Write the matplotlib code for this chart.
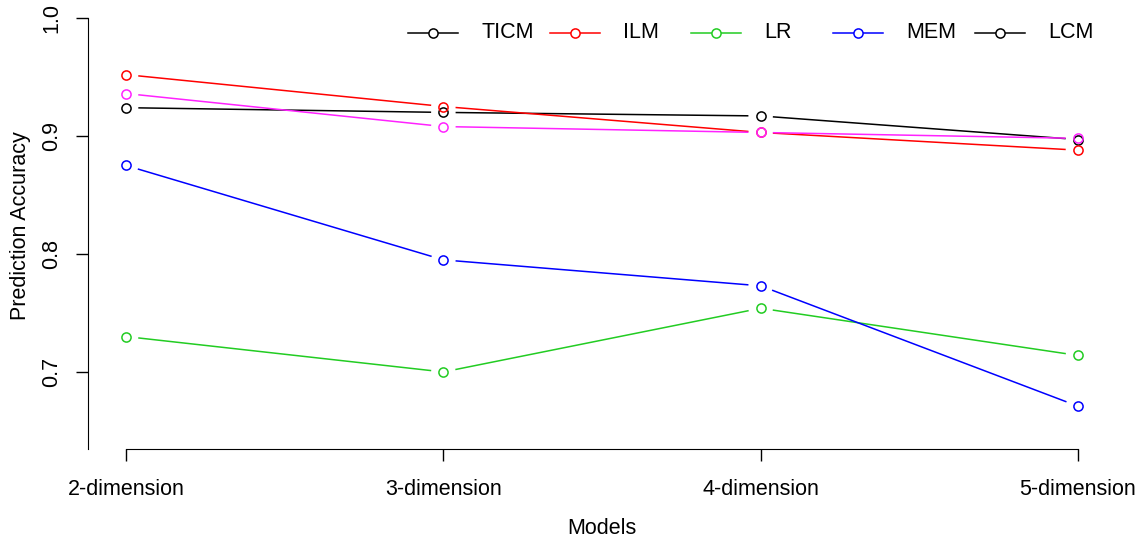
import numpy as np
import matplotlib
matplotlib.use("Agg")
import matplotlib.pyplot as plt
from matplotlib.lines import Line2D

plt.rcParams['font.family'] = ['Liberation Sans', 'DejaVu Sans']

models = ['2-dimension', '3-dimension', '4-dimension', '5-dimension']
ticm = [0.924, 0.920, 0.917, 0.897]
ilm = [0.952, 0.925, 0.903, 0.888]
lr = [0.730, 0.700, 0.754, 0.714]
mem = [0.875, 0.795, 0.773, 0.671]
lcm = [0.936, 0.908, 0.903, 0.898]

legend_names = ['TICM', 'ILM', 'LR', 'MEM', 'LCM']
legend_cols = ['black', 'red', '#22cc22', 'blue', 'black']

series = [(ticm, 'black'), (ilm, 'red'), (lr, '#22cc22'), (mem, 'blue'), (lcm, '#ff22ff')]

W, H = 1142, 540
fig = plt.figure(figsize=(W / 100, H / 100), dpi=100)
ax = fig.add_axes([88 / W, 1 - 449 / H, (1116 - 88) / W, (449 - 1.5) / H])

x = np.arange(1, len(models) + 1)
ax.set_xlim(0.88, 4.12)
ax.set_ylim(0.6347, 1.014)

fig.canvas.draw()
gap = 13  # pixels left open around each point, like R type="b"


def draw_b(xs, ys, col):
    pts = ax.transData.transform(np.column_stack([xs, ys]))
    inv = ax.transData.inverted()
    for p, q in zip(pts[:-1], pts[1:]):
        d = q - p
        n = np.hypot(*d)
        if n <= 2 * gap:
            continue
        u = d / n
        a = inv.transform(p + u * gap)
        b = inv.transform(q - u * gap)
        ax.plot([a[0], b[0]], [a[1], b[1]], color=col, lw=1.1)
    ax.plot(xs, ys, ls='none', marker='o', ms=6.6, mfc='none', mec=col, mew=1.1)


for ys, col in series:
    draw_b(x, ys, col)

ax.spines['top'].set_visible(False)
ax.spines['right'].set_visible(False)
ax.spines['bottom'].set_bounds(1, 4)
ax.spines['left'].set_bounds(0.6347, 1.0)

ax.set_xticks(x)
ax.set_xticklabels(models)
ax.set_yticks([0.7, 0.8, 0.9, 1.0])
ax.set_yticklabels(['0.7', '0.8', '0.9', '1.0'], rotation=90, va='center')
ax.tick_params(axis='both', direction='out', length=8.6, width=1, labelsize=15.5, colors='black')
ax.tick_params(axis='x', pad=13)
ax.tick_params(axis='y', pad=10)

ax.set_xlabel('Models', fontsize=15.5, labelpad=13)
ax.set_ylabel('Prediction Accuracy', fontsize=15.5, labelpad=7)

# horizontal legend along the top
for i, (name, col) in enumerate(zip(legend_names, legend_cols)):
    x0 = 408 + 141.7 * i
    yy = 1 - 33 / H
    fig.add_artist(Line2D([x0 / W, (x0 + 50) / W], [yy, yy], color=col, lw=1.1))
    fig.add_artist(Line2D([(x0 + 25) / W], [yy], ls='none', marker='o', ms=6.6,
                          mfc='white', mec=col, mew=1.1))
    fig.text((x0 + 73) / W, yy, name, fontsize=15.5, va='center', ha='left')

fig.savefig('out.png', dpi=100)
